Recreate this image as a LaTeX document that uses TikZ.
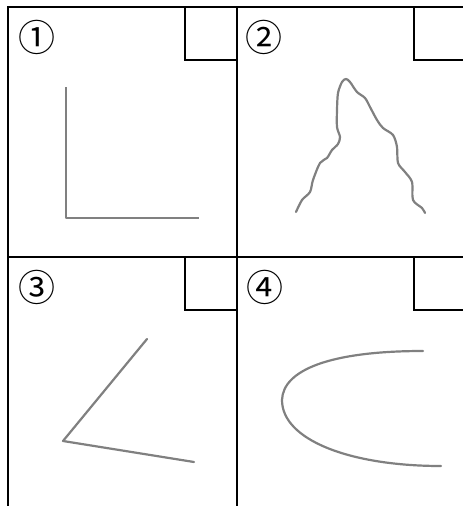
\documentclass[tikz,border=0pt]{standalone}
\usepackage{fontspec}
\newfontfamily\circfont{Noto Sans CJK JP}[Scale=1]
\begin{document}
\begin{tikzpicture}[x=1pt,y=-1pt,
  frame/.style={line width=1.6pt,black},
  sketch/.style={line width=2.2pt,black!50,line cap=round,line join=round},
  numlabel/.style={inner sep=0pt,font=\circfont\fontsize{37}{37}\selectfont}]
\useasboundingbox (0,0) rectangle (463,506);
% frame
\draw[frame] (8,506) -- (8,7) -- (463,7);
\draw[frame] (237,7) -- (237,506);
\draw[frame] (8,257) -- (463,257);
% small boxes
\draw[frame] (237,60) -- (185,60) -- (185,7);
\draw[frame] (463,60) -- (414,60) -- (414,7);
\draw[frame] (237,310) -- (185,310) -- (185,257);
\draw[frame] (463,310) -- (414,310) -- (414,257);
% labels
\node[numlabel] (n1) at (37,37) {①};
\node[numlabel] (n2) at (264,37) {②};
\node[numlabel] (n3) at (37,287) {③};
\node[numlabel] (n4) at (265,287) {④};
% panel 1
\draw[sketch,line cap=butt] (66,87) -- (66,218) -- (199,218);
% panel 2
\draw[sketch] plot[smooth,tension=0.5] coordinates {(296,212) (302,200) (310,192) (313,180) (320,163) (327,158) (332,150) (338,144) (340,137) (337,127) (337,110) (338,93) (342,82) (346,79) (350,82) (357,92) (365,98) (370,107) (377,120) (383,128) (393,135) (397,147) (398,163) (405,172) (412,182) (413,200) (422,208) (425,213)};
% panel 3
\draw[sketch] (147,339) -- (63,441) -- (194,462);
% panel 4
\draw[sketch] (423,351) .. controls (330,351) and (283,370) .. (282,400) .. controls (282,440) and (350,466) .. (441,466);
\end{tikzpicture}
\end{document}
